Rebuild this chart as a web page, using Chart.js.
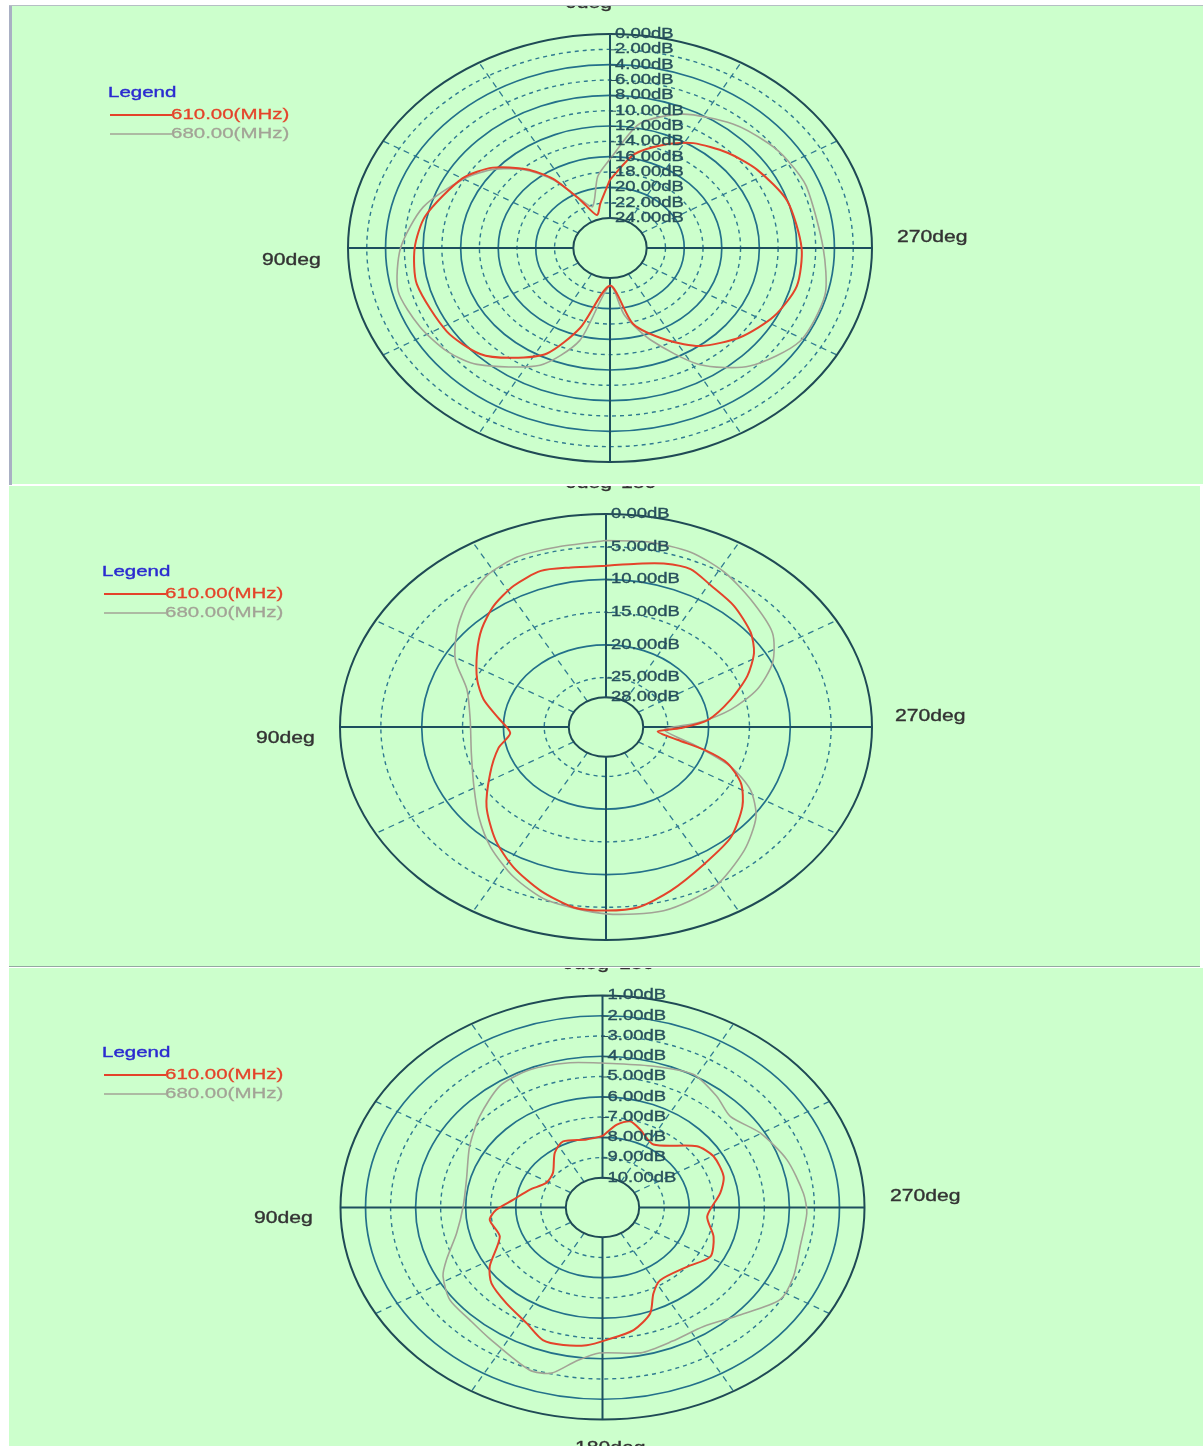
<!DOCTYPE html>
<html>
<head>
<meta charset="utf-8">
<script src="https://cdn.jsdelivr.net/npm/chart.js@4.4.0/dist/chart.umd.min.js"></script>
<style>
  body{margin:0;background:#fff;width:1203px;height:1446px;position:relative;overflow:hidden;}
  .panel{position:absolute;background:#ccffcc;}
  .panel canvas{display:block;}
  .line{position:absolute;}
</style>
</head>
<body>
<div class="panel" style="left:12px;top:6px;width:1191px;height:478px"><canvas id="c1" width="1191" height="478"></canvas></div>
<div class="panel" style="left:9px;top:486px;width:1191px;height:481px"><canvas id="c2" width="1191" height="481"></canvas></div>
<div class="panel" style="left:9px;top:968px;width:1194px;height:478px"><canvas id="c3" width="1194" height="478"></canvas></div>
<div class="line" style="left:9px;top:5px;width:3px;height:480px;background:#a9b0c4"></div>
<div class="line" style="left:9px;top:5px;width:1194px;height:1px;background:#b5bfc4"></div>
<div class="line" style="left:9px;top:966px;width:1191px;height:1px;background:#93aaa0"></div>
<script>
// relative size of the centre hole (fraction of the outer ring)
const HOLE = 0.14;
const seriesNames = ["610.00(MHz)", "680.00(MHz)"];

// ---------- panel 1 (0..24 dB) ----------
const topTickValues = [0, 2, 4, 6, 8, 10, 12, 14, 16, 18, 20, 22, 24];
const topAngles610 = [0, 10, 18, 27, 34, 41, 50, 60, 78, 90, 103, 122, 135, 144, 154, 163, 180, 194, 207, 217, 230, 243, 256, 270, 288, 303, 315, 327, 336, 348];
const topDb610     = [19.0, 22.0, 23.4, 20.8, 17.0, 14.3, 11.6, 9.75, 7.8, 7.1, 6.8, 7.4, 8.35, 10.2, 12.6, 17.0, 23.0, 17.7, 14.4, 11.9, 9.8, 8.3, 7.4, 7.5, 8.05, 9.2, 10.3, 11.6, 13.1, 15.4];
const topAngles680 = [0, 8, 19, 27, 34, 41, 50, 60, 75, 90, 104, 117, 128, 137, 154, 165, 180, 190, 200, 212, 224, 239, 255, 270, 291, 301, 309, 321, 336, 349];
const topDb680     = [16.3, 18.5, 22.2, 20.6, 17.2, 14.5, 11.9, 9.9, 7.3, 5.6, 4.65, 5.2, 5.95, 7.15, 10.9, 15.4, 23.0, 19.0, 15.1, 10.0, 6.5, 4.3, 4.2, 5.2, 5.5, 5.8, 6.2, 7.1, 8.8, 11.4];

// ---------- panel 2 (0..28 dB) ----------
const midTickValues = [0, 5, 10, 15, 20, 25, 28];
const midAngles610 = [0, 10, 18.5, 27.6, 36.6, 45.4, 54.2, 65.3, 74.3, 84, 94.5, 103.8, 116.6, 129.9, 142, 152.2, 162.2, 171.9, 180, 188, 197.5, 209.8, 222.2, 233.9, 242.4, 249.6, 253.8, 257.4, 263.8, 269, 275, 285.4, 294.2, 302, 309.2, 319.8, 329.3, 336.8, 344.2, 351.3];
const midDb610     = [7.9, 7.8, 7.4, 8.2, 9.5, 11.2, 13.1, 15.2, 17.0, 19.3, 20.8, 19.0, 16.7, 13.5, 10.6, 8.3, 6.3, 4.7, 4.5, 4.7, 6.3, 8.4, 9.8, 11.9, 13.9, 16.7, 20.0, 23.6, 26.2, 23.4, 20.0, 16.7, 13.6, 11.2, 9.7, 8.3, 7.4, 6.3, 6.6, 7.3];
const midAngles680 = [0, 12.2, 22.7, 32.2, 41.7, 50.6, 60.7, 71.4, 86.2, 103.6, 119.4, 131.4, 142.4, 153.8, 164.8, 180, 194.1, 208.3, 221.8, 233.1, 241.4, 248.3, 255.1, 266.6, 273.2, 280, 287.2, 295.8, 305.3, 317.9, 328.6, 338.8, 349.9];
const midDb680     = [4.06, 4.4, 4.4, 5.2, 7.0, 9.0, 11.4, 14.6, 15.9, 15.6, 14.0, 11.8, 9.4, 7.0, 5.1, 4.0, 3.6, 4.7, 7.2, 9.6, 12.4, 16.1, 21.0, 25.4, 21.3, 17.0, 13.2, 9.9, 7.6, 6.2, 4.8, 3.9, 3.8];

// ---------- panel 3 (1..10 dB) ----------
const lowTickValues = [1, 2, 3, 4, 5, 6, 7, 8, 9, 10];
const lowAngles610 = [0, 10.7, 25.7, 35.2, 49.2, 61.6, 73.3, 84, 91.5, 97.7, 109.3, 122.9, 130.2, 141, 152, 160, 167, 174.7, 181.5, 191.6, 200, 205.6, 212.7, 229, 240.6, 252, 264, 278.6, 287.6, 299.7, 308.7, 326.8, 338.7, 345.5, 352];
const lowDb610     = [7.94, 8.05, 7.84, 8.16, 8.85, 8.91, 8.42, 7.87, 7.22, 6.92, 7.12, 6.1, 5.66, 5.37, 5.0, 4.5, 4.5, 4.64, 4.93, 5.29, 5.9, 6.76, 7.2, 7.0, 6.52, 6.8, 7.26, 6.71, 6.39, 6.36, 6.63, 7.75, 7.33, 7.07, 7.33];
const lowAngles680 = [0, 10.3, 23.1, 34.4, 47.5, 60.4, 75.8, 89.5, 102.3, 112.5, 118, 126.8, 136.3, 145, 160, 166, 172, 179, 192, 203, 214.5, 226, 237.3, 245.9, 256.3, 268, 275, 287.7, 300.3, 311.4, 320.2, 331, 343.7];
const lowDb680     = [4.33, 4.2, 4.07, 4.2, 4.81, 5.36, 5.86, 5.9, 5.5, 4.72, 4.25, 3.85, 3.79, 3.58, 2.93, 3.04, 3.8, 4.28, 4.13, 4.3, 4.34, 3.83, 3.04, 3.11, 3.34, 3.3, 3.41, 3.73, 4.17, 4.66, 4.33, 3.96, 4.2];

// --------- helpers ----------
function rho(v, outer, inner){ return HOLE + (1 - HOLE) * (inner - v) / (inner - outer); }

function polarPoints(angles, dbs, outer, inner){
  const pts = angles.map((a, i)=>{
    const r = rho(dbs[i], outer, inner), t = a * Math.PI / 180;
    return { x: -r * Math.sin(t), y: r * Math.cos(t) };
  });
  pts.push({ x: pts[0].x, y: pts[0].y });
  return pts;
}

// the source picture is stretched sideways, so the text is too
function wideText(ctx, txt, x, y, heavy){
  ctx.save(); ctx.translate(x, y); ctx.scale(1.32, 1);
  ctx.fillText(txt, 0, 0);
  if(heavy){ ctx.lineWidth = heavy; ctx.strokeStyle = ctx.fillStyle; ctx.strokeText(txt, 0, 0); }
  ctx.restore();
}

function makeGrid(cfg){
  return {
    id: "polarGrid",
    beforeDatasetsDraw(chart){
      const ctx = chart.ctx, xs = chart.scales.x, ys = chart.scales.y;
      const cx = xs.getPixelForValue(0), cy = ys.getPixelForValue(0);
      const RX = xs.getPixelForValue(1) - cx, RY = cy - ys.getPixelForValue(1);
      ctx.save();
      // dashed spokes
      ctx.strokeStyle = "#2f7a90"; ctx.lineWidth = 1.3; ctx.setLineDash([6, 5]);
      [30, 60, 120, 150, 210, 240, 300, 330].forEach(a=>{
        const t = a * Math.PI / 180;
        ctx.beginPath();
        ctx.moveTo(cx - RX * HOLE * Math.sin(t), cy - RY * HOLE * Math.cos(t));
        ctx.lineTo(cx - RX * Math.sin(t), cy - RY * Math.cos(t));
        ctx.stroke();
      });
      // rings
      cfg.ticks.forEach((v, i)=>{
        const r = rho(v, cfg.outer, cfg.inner);
        const edge = (i === 0 || i === cfg.ticks.length - 1);
        ctx.beginPath();
        ctx.ellipse(cx, cy, RX * r, RY * r, 0, 0, Math.PI * 2);
        if(edge){ ctx.setLineDash([]); ctx.strokeStyle = "#1f4a55"; ctx.lineWidth = 2; }
        else if(cfg.dashed[i]){ ctx.setLineDash([4, 4]); ctx.strokeStyle = "#2f7a90"; ctx.lineWidth = 1.4; }
        else { ctx.setLineDash([]); ctx.strokeStyle = "#23708a"; ctx.lineWidth = 1.7; }
        ctx.stroke();
      });
      // main axes
      ctx.setLineDash([]); ctx.strokeStyle = "#1d4f5e"; ctx.lineWidth = 2;
      [[1,0],[-1,0],[0,1],[0,-1]].forEach(d=>{
        ctx.beginPath();
        ctx.moveTo(cx + d[0] * RX * HOLE, cy + d[1] * RY * HOLE);
        ctx.lineTo(cx + d[0] * RX, cy + d[1] * RY);
        ctx.stroke();
      });
      ctx.restore();
    },
    afterDatasetsDraw(chart){
      const ctx = chart.ctx, xs = chart.scales.x, ys = chart.scales.y;
      const cx = xs.getPixelForValue(0), cy = ys.getPixelForValue(0);
      const RY = cy - ys.getPixelForValue(1);
      ctx.save();
      ctx.textBaseline = "middle"; ctx.textAlign = "left";
      // radial tick labels along the upper axis
      ctx.font = "14px Arial, 'Liberation Sans', sans-serif";
      ctx.strokeStyle = "#28505c"; ctx.fillStyle = "#28505c"; ctx.lineWidth = 1;
      cfg.ticks.forEach(v=>{
        const y = cy - RY * rho(v, cfg.outer, cfg.inner);
        ctx.beginPath(); ctx.moveTo(cx - 1, y + 0.5); ctx.lineTo(cx + 6, y + 0.5); ctx.stroke();
        wideText(ctx, v.toFixed(2) + "dB", cx + 5, y, 0.35);
      });
      // angle labels
      ctx.font = "16px Arial, 'Liberation Sans', sans-serif";
      ctx.fillStyle = "#333";
      cfg.degLabels.forEach(l=> wideText(ctx, l[0], l[1], l[2], 0.35));
      // legend
      const L = cfg.legend;
      ctx.font = "15.5px Arial, 'Liberation Sans', sans-serif";
      ctx.fillStyle = "#2b2bd0";
      wideText(ctx, "Legend", L.x, L.y, 0.4);
      [["#e4432a", 2], ["#a3a396", 1.5]].forEach((s, i)=>{
        const y = L.y + 22 + i * 19;
        ctx.strokeStyle = s[0]; ctx.lineWidth = s[1];
        ctx.beginPath(); ctx.moveTo(L.x + 2, y); ctx.lineTo(L.x + 64, y); ctx.stroke();
        ctx.fillStyle = s[0];
        wideText(ctx, seriesNames[i], L.x + 63, y, 0.3);
      });
      ctx.restore();
    }
  };
}

function makePolar(id, cfg){
  const W = cfg.w, H = cfg.h;
  new Chart(document.getElementById(id), {
    type: "scatter",
    data: { datasets: [
      { data: polarPoints(cfg.a610, cfg.d610, cfg.outer, cfg.inner), borderColor: "#e4432a", borderWidth: 2 },
      { data: polarPoints(cfg.a680, cfg.d680, cfg.outer, cfg.inner), borderColor: "#a3a396", borderWidth: 1.6 }
    ].map(d=> Object.assign(d, { showLine: true, fill: false, pointRadius: 0, tension: 0.25, clip: false })) },
    options: {
      responsive: false, animation: false,
      layout: { padding: { left: cfg.cx - cfg.rx, right: W - cfg.cx - cfg.rx, top: cfg.cy - cfg.ry, bottom: H - cfg.cy - cfg.ry } },
      plugins: { legend: { display: false }, tooltip: { enabled: false } },
      scales: {
        x: { type: "linear", min: -1, max: 1, display: false },
        y: { type: "linear", min: -1, max: 1, display: false }
      }
    },
    plugins: [makeGrid(cfg)]
  });
}

// panel 1 : canvas at (12,6)
makePolar("c1", {
  w: 1191, h: 478, cx: 598, cy: 242, rx: 262, ry: 214,
  outer: 0, inner: 24, ticks: topTickValues, dashed: topTickValues.map(v=> v % 4 !== 0),
  a610: topAngles610, d610: topDb610, a680: topAngles680, d680: topDb680,
  legend: { x: 96, y: 87 },
  degLabels: [["90deg", 250, 255], ["270deg", 885, 232], ["0deg", 553, -2]]
});
// panel 2 : canvas at (9,486)
makePolar("c2", {
  w: 1191, h: 481, cx: 597, cy: 241, rx: 266, ry: 213,
  outer: 0, inner: 28, ticks: midTickValues, dashed: midTickValues.map(v=> v % 10 !== 0),
  a610: midAngles610, d610: midDb610, a680: midAngles680, d680: midDb680,
  legend: { x: 93, y: 86 },
  degLabels: [["90deg", 247, 253], ["270deg", 886, 231], ["0deg", 556, -2], ["180", 612, -2]]
});
// panel 3 : canvas at (9,968)
makePolar("c3", {
  w: 1194, h: 478, cx: 593.5, cy: 239.5, rx: 262, ry: 212,
  outer: 1, inner: 10, ticks: lowTickValues, dashed: lowTickValues.map(v=> v % 2 !== 0),
  a610: lowAngles610, d610: lowDb610, a680: lowAngles680, d680: lowDb680,
  legend: { x: 93, y: 85 },
  degLabels: [["90deg", 245, 251], ["270deg", 881, 229], ["0deg", 553, -3], ["180", 610, -3], ["180deg", 566, 481]]
});
</script>
</body>
</html>
